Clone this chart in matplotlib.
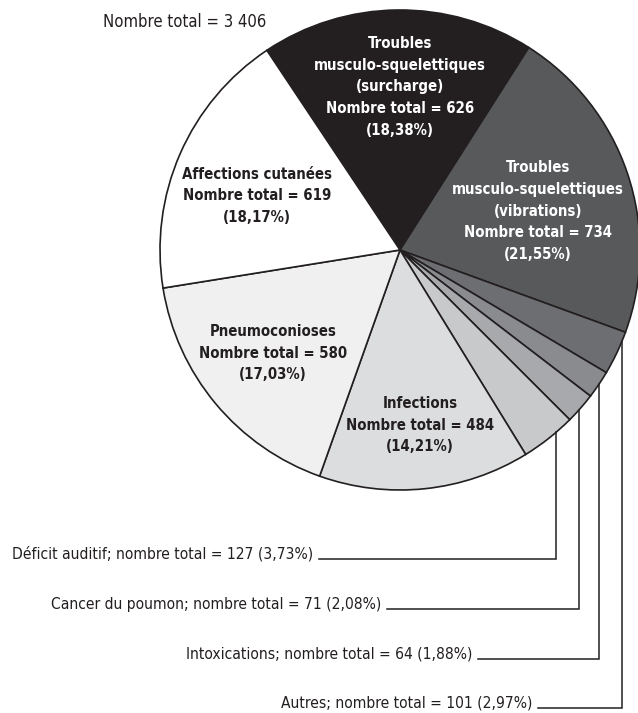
import matplotlib.pyplot as plt
import numpy as np

# Maladies professionnelles reconnues, répartition par catégorie
categories = [
    "Troubles\nmusculo-squelettiques\n(surcharge)",
    "Troubles\nmusculo-squelettiques\n(vibrations)",
    "Autres",
    "Intoxications",
    "Cancer du poumon",
    "Déficit auditif",
    "Infections",
    "Pneumoconioses",
    "Affections cutanées",
]
counts = [626, 734, 101, 64, 71, 127, 484, 580, 619]
percents = ["18,38", "21,55", "2,97", "1,88", "2,08", "3,73", "14,21", "17,03", "18,17"]
total_label = "3 406"

colors = ["#231f20", "#58595b", "#6d6e71", "#8a8b8e", "#a7a9ac",
          "#c8c9cb", "#dcddde", "#f0f0f1", "#ffffff"]

W, H = 638, 713
fig = plt.figure(figsize=(W / 100, H / 100), dpi=100)
ax = fig.add_axes([0, 0, 1, 1])

cx, cy, R = 400, H - 250, 240
wedges, _ = ax.pie(counts, colors=colors, startangle=123.7, counterclock=False,
                   radius=R, center=(cx, cy),
                   wedgeprops=dict(edgecolor="#231f20", linewidth=1.2))
ax.set_xlim(0, W)
ax.set_ylim(0, H)
ax.set_aspect("equal")
ax.axis("off")

font = ["DejaVu Sans"]
big = dict(family=font, fontstretch="condensed", fontsize=10.7, fontweight="bold",
           ha="center", va="center", linespacing=1.55)
small = dict(family=font, fontstretch="condensed", fontsize=11.2,
             ha="right", va="center")

# étiquettes dans le camembert
inside = {0: (400, 87, "white"), 1: (538, 211, "white"),
          8: (257, 196, "#231f20"), 7: (273, 353, "#231f20"), 6: (420, 425, "#231f20")}
for i, (x, y, c) in inside.items():
    txt = f"{categories[i]}\nNombre total = {counts[i]}\n({percents[i]}%)"
    ax.text(x, H - y, txt, color=c, **big)

ax.text(185, H - 22, f"Nombre total = {total_label}",
        **dict(big, color="#231f20", fontweight="normal", fontsize=12))

# petites catégories avec lignes de rappel
leader_x = {5: 556, 4: 579, 3: 599, 2: 622}
label_y = {5: 559, 4: 609, 3: 659, 2: 708}
text_end = {5: 313, 4: 381, 3: 472, 2: 532}
for i in [5, 4, 3, 2]:
    lx, ly = leader_x[i], H - label_y[i]
    top = cy - np.sqrt(R ** 2 - (lx - cx) ** 2)
    ax.plot([text_end[i] + 6, lx, lx], [ly, ly, top], color="#231f20", lw=1.1,
            solid_joinstyle="miter")
    ax.text(text_end[i], ly + 5,
            f"{categories[i]}; nombre total = {counts[i]} ({percents[i]}%)",
            color="#231f20", **small)

fig.savefig("out.png", dpi=100)
